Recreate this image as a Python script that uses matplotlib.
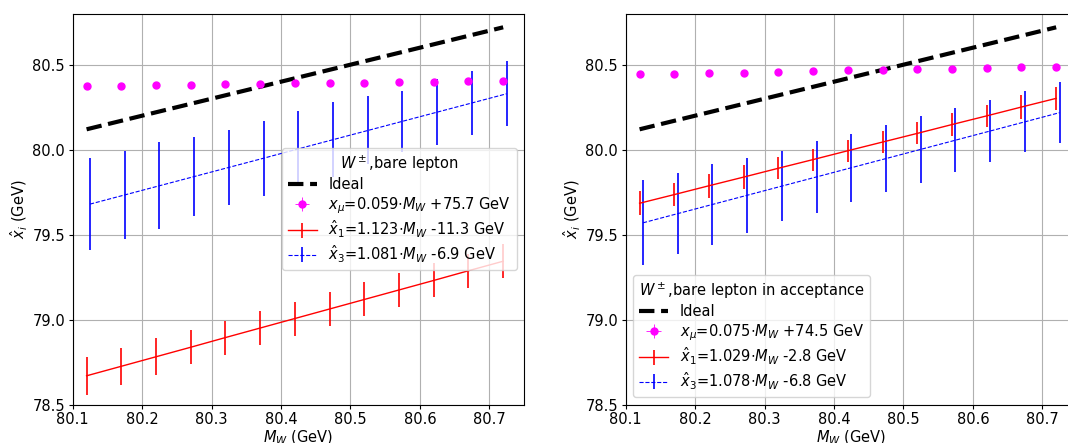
import matplotlib.pyplot as plt
import numpy as np

# W mass points (GeV)
m_w = [80.12, 80.17, 80.22, 80.27, 80.32, 80.37, 80.42, 80.47, 80.52, 80.57, 80.62, 80.67, 80.72]

# left panel: W+-, bare lepton
mu_all = [80.372, 80.375, 80.378, 80.381, 80.384, 80.387, 80.390, 80.392, 80.395, 80.398, 80.401, 80.404, 80.407]
x1_all = [78.670, 78.726, 78.782, 78.838, 78.895, 78.951, 79.007, 79.063, 79.119, 79.175, 79.231, 79.288, 79.344]
x1_all_err = [0.11, 0.11, 0.11, 0.10, 0.10, 0.10, 0.10, 0.10, 0.10, 0.10, 0.10, 0.10, 0.10]
x3_all = [79.680, 79.734, 79.788, 79.842, 79.896, 79.950, 80.005, 80.059, 80.113, 80.167, 80.221, 80.275, 80.329]
x3_all_err = [0.27, 0.26, 0.255, 0.23, 0.22, 0.22, 0.22, 0.22, 0.20, 0.18, 0.195, 0.19, 0.19]

# right panel: W+-, bare lepton in acceptance
mu_acc = [80.443, 80.447, 80.450, 80.454, 80.458, 80.462, 80.466, 80.469, 80.473, 80.477, 80.481, 80.484, 80.488]
x1_acc = [79.685, 79.736, 79.788, 79.839, 79.891, 79.942, 79.994, 80.045, 80.096, 80.148, 80.199, 80.251, 80.302]
x1_acc_err = [0.07, 0.07, 0.07, 0.07, 0.065, 0.065, 0.065, 0.065, 0.065, 0.065, 0.065, 0.068, 0.068]
x3_acc = [79.570, 79.624, 79.678, 79.732, 79.786, 79.840, 79.894, 79.948, 80.002, 80.056, 80.110, 80.164, 80.218]
x3_acc_err = [0.25, 0.24, 0.24, 0.22, 0.205, 0.21, 0.20, 0.195, 0.195, 0.19, 0.185, 0.18, 0.18]

mu_err = [0.003] * len(m_w)

panels = [
    dict(mu=mu_all, x1=x1_all, x1e=x1_all_err, x3=x3_all, x3e=x3_all_err,
         title=r'$W^\pm$,bare lepton',
         labels=[r'$x_\mu$=0.059$\cdot M_W$ +75.7 GeV',
                 r'$\hat{x}_1$=1.123$\cdot M_W$ -11.3 GeV',
                 r'$\hat{x}_3$=1.081$\cdot M_W$ -6.9 GeV'],
         loc='center right', left=72.7),
    dict(mu=mu_acc, x1=x1_acc, x1e=x1_acc_err, x3=x3_acc, x3e=x3_acc_err,
         title=r'$W^\pm$,bare lepton in acceptance',
         labels=[r'$x_\mu$=0.075$\cdot M_W$ +74.5 GeV',
                 r'$\hat{x}_1$=1.029$\cdot M_W$ -2.8 GeV',
                 r'$\hat{x}_3$=1.078$\cdot M_W$ -6.8 GeV'],
         loc='lower left', left=625.7),
]

plt.rcParams['font.size'] = 10.5
plt.rcParams['xtick.major.size'] = 3
plt.rcParams['ytick.major.size'] = 3
plt.rcParams['xtick.major.pad'] = 2.5
plt.rcParams['ytick.major.pad'] = 2.5

W, H = 1068, 443
fig = plt.figure(figsize=(W / 100, H / 100), dpi=100)
m = np.array(m_w)

for p in panels:
    ax = fig.add_axes([p['left'] / W, (H - 404.7) / H, 451.3 / W, 391 / H])
    ax.plot(m, m, 'k--', lw=3, label='Ideal')
    ax.errorbar(m, p['mu'], xerr=mu_err, yerr=mu_err, fmt='o', color='magenta',
                ms=5, elinewidth=0.6, label=p['labels'][0])
    ax.errorbar(m, p['x1'], yerr=p['x1e'], fmt='-', color='red', lw=1,
                elinewidth=1.2, label=p['labels'][1])
    ax.errorbar(m + 0.005, p['x3'], yerr=p['x3e'], fmt='--', color='blue', lw=0.8,
                elinewidth=1.2, label=p['labels'][2])
    ax.set_xlim(80.1, 80.75)
    ax.set_ylim(78.5, 80.8)
    ax.set_xticks([80.1, 80.2, 80.3, 80.4, 80.5, 80.6, 80.7])
    ax.set_yticks([78.5, 79.0, 79.5, 80.0, 80.5])
    ax.grid(True)
    ax.set_xlabel(r'$M_W$ (GeV)', labelpad=1)
    ax.set_ylabel(r'$\hat{x}_i$ (GeV)', labelpad=2)
    ax.legend(loc=p['loc'], title=p['title'], labelspacing=0.2)

fig.savefig('out.png', dpi=100)
